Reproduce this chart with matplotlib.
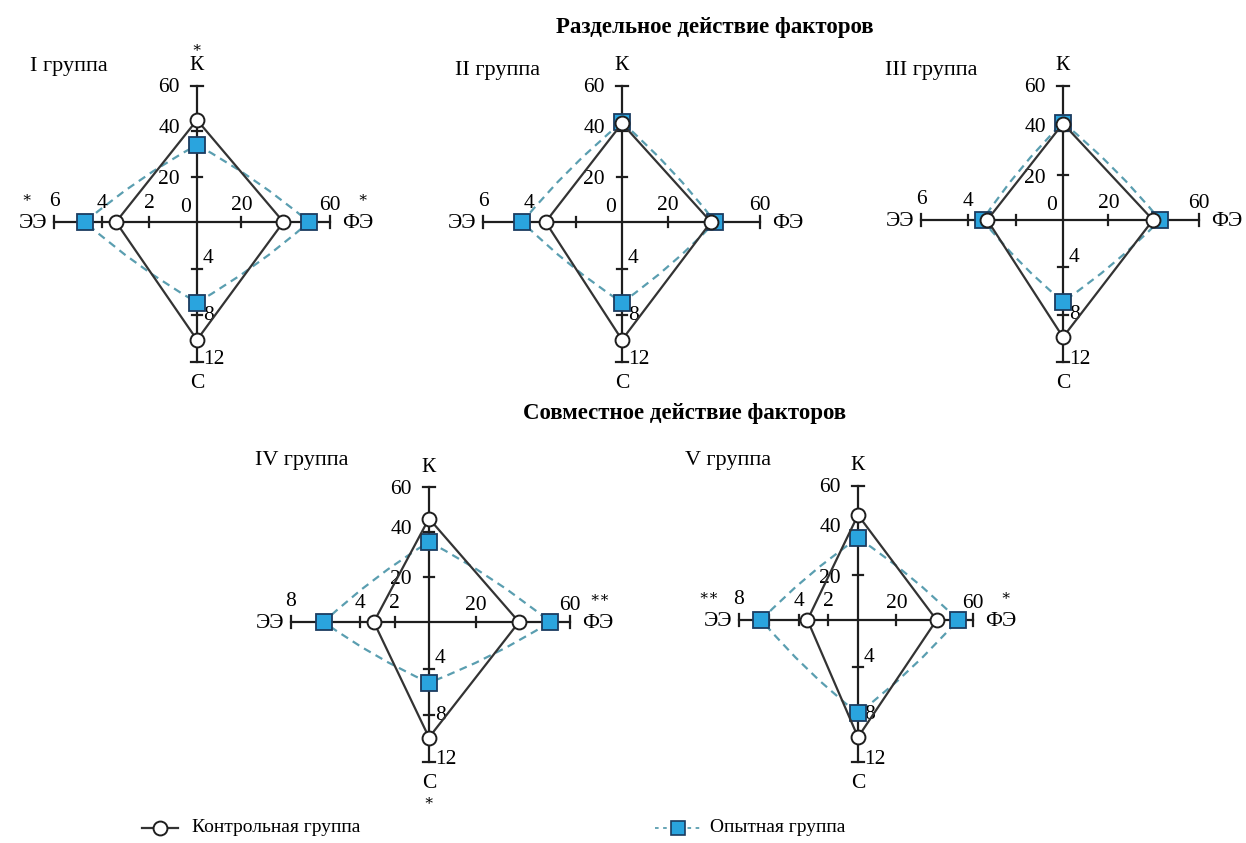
import numpy as np
import matplotlib
matplotlib.use("Agg")
import matplotlib.pyplot as plt
from matplotlib.path import Path
from matplotlib.patches import PathPatch

plt.rcParams['font.family'] = ['Liberation Serif', 'DejaVu Serif']

# ---------------- data ----------------
groups = ["I группа", "II группа", "III группа", "IV группа", "V группа"]
axis_names = ["К", "ФЭ", "С", "ЭЭ"]
# control group values per axis
k_control = [45.0, 43.5, 43.2, 46.0, 47.0]
fe_control = [39.0, 38.7, 39.7, 38.3, 41.0]
c_control = [10.1, 10.1, 9.9, 9.9, 9.9]
ee_control = [3.4, 3.3, 3.2, 3.2, 3.4]
# experimental group values per axis
k_exp = [34.0, 44.0, 43.6, 35.6, 36.7]
fe_exp = [50.5, 40.4, 42.8, 51.5, 52.0]
c_exp = [6.9, 6.9, 6.9, 5.2, 7.9]
ee_exp = [4.7, 4.3, 3.4, 6.1, 6.5]
# axis maxima and ticks
k_max, fe_max, c_max = 60, 60, 12
ee_max = [6, 6, 6, 8, 8]
k_ticks = [20, 40]
fe_ticks = [20, 40]
c_ticks = [4, 8]
ee_ticks = [[2, 4], [2, 4], [2, 4], [2, 4, 6], [2, 4, 6]]
ee_tick_labels = [["2", "4"], ["4"], ["4"], ["2", "4"], ["2", "4"]]
show_zero = [True, True, True, False, False]
# significance marks: (group index, anchor, text)
stars = [(0, "K", "*"), (0, "EE", "*"), (0, "FE", "*"),
         (3, "FE", "**"), (3, "C", "*"),
         (4, "EE", "**"), (4, "FE", "*")]
section_titles = ["Раздельное действие факторов", "Совместное действие факторов"]
legend_labels = ["Контрольная группа", "Опытная группа"]

# ---------------- layout (pixels) ----------------
geom = [
    dict(cx=197, cy=222, up=136, right=133, down=140, left=143),
    dict(cx=622, cy=222, up=136, right=138, down=140, left=139),
    dict(cx=1063, cy=220, up=134, right=136, down=142, left=142),
    dict(cx=429, cy=622, up=135, right=141, down=140, left=138),
    dict(cx=858, cy=620, up=134, right=115, down=142, left=119),
]
group_label_pos = [(30, 66), (455, 71), (885, 71), (255, 461), (685, 460)]

W, H = 1246, 843
fig = plt.figure(figsize=(W / 100, H / 100), dpi=100)
ax = fig.add_axes([0, 0, 1, 1])
ax.set_xlim(0, W)
ax.set_ylim(H, 0)
ax.axis('off')

AX_COL = "#1e1e1e"
CTRL_COL = "#333333"
DASH_COL = "#5a9eb0"
SQ_FACE = "#2aa4de"
SQ_EDGE = "#1b3c60"
FS = 15.5
LW = 1.6


def to_xy(g, name, v, vmax):
    if name == "K":
        return g['cx'], g['cy'] - v / vmax * g['up']
    if name == "FE":
        return g['cx'] + v / vmax * g['right'], g['cy']
    if name == "C":
        return g['cx'], g['cy'] + v / vmax * g['down']
    return g['cx'] - v / vmax * g['left'], g['cy']


def bowed_closed(pts, center, bow=0.05):
    n = len(pts)
    c = np.array(center, dtype=float)
    verts = [pts[0]]
    codes = [Path.MOVETO]
    for i in range(n):
        p1 = np.array(pts[i], dtype=float)
        p2 = np.array(pts[(i + 1) % n], dtype=float)
        m = (p1 + p2) / 2
        d = p2 - p1
        L = np.hypot(*d)
        nrm = np.array([-d[1], d[0]]) / L
        if np.dot(nrm, m - c) < 0:
            nrm = -nrm
        ctrl = m + nrm * bow * L
        verts += [tuple(ctrl), tuple(p2)]
        codes += [Path.CURVE3, Path.CURVE3]
    return Path(verts, codes)


for gi, g in enumerate(geom):
    cx, cy = g['cx'], g['cy']
    em = ee_max[gi]
    # axis lines
    ax.plot([cx, cx], [cy - g['up'], cy + g['down']], color=AX_COL, lw=LW, zorder=1)
    ax.plot([cx - g['left'], cx + g['right']], [cy, cy], color=AX_COL, lw=LW, zorder=1)
    # end caps
    cap = 6
    ax.plot([cx - cap, cx + cap], [cy - g['up']] * 2, color=AX_COL, lw=LW, zorder=1)
    ax.plot([cx - cap, cx + cap], [cy + g['down']] * 2, color=AX_COL, lw=LW, zorder=1)
    ax.plot([cx + g['right']] * 2, [cy - cap, cy + cap], color=AX_COL, lw=LW, zorder=1)
    ax.plot([cx - g['left']] * 2, [cy - cap, cy + cap], color=AX_COL, lw=LW, zorder=1)
    # ticks
    tk = 5
    for v in k_ticks:
        x, y = to_xy(g, "K", v, k_max)
        ax.plot([x - tk, x + tk], [y, y], color=AX_COL, lw=LW, zorder=1)
    for v in c_ticks:
        x, y = to_xy(g, "C", v, c_max)
        ax.plot([x - tk, x + tk], [y, y], color=AX_COL, lw=LW, zorder=1)
    for v in fe_ticks:
        x, y = to_xy(g, "FE", v, fe_max)
        ax.plot([x, x], [y - tk, y + tk], color=AX_COL, lw=LW, zorder=1)
    for v in ee_ticks[gi]:
        x, y = to_xy(g, "EE", v, em)
        ax.plot([x, x], [y - tk, y + tk], color=AX_COL, lw=LW, zorder=1)

    # tick labels
    for v in k_ticks + [k_max]:
        x, y = to_xy(g, "K", v, k_max)
        dy = {20: 3, 40: -3, 60: 2}[v]
        ax.text(cx - 17, y + dy, str(v), ha='right', va='center', fontsize=FS)
    for v in [20, fe_max]:
        x, y = to_xy(g, "FE", v, fe_max)
        ax.text(x, cy - 17, str(v), ha='center', va='center', fontsize=FS)
    for v in c_ticks + [c_max]:
        x, y = to_xy(g, "C", v, c_max)
        dy = {4: -10, 8: 0, 12: -3}[v]
        ax.text(cx + 6, y + dy, str(v), ha='left', va='center', fontsize=FS)
    for lab in ee_tick_labels[gi]:
        x, y = to_xy(g, "EE", float(lab), em)
        ax.text(x, cy - 18, lab, ha='center', va='center', fontsize=FS)
    x, y = to_xy(g, "EE", em, em)
    ax.text(x, cy - 20, str(em), ha='center', va='center', fontsize=FS)
    if show_zero[gi]:
        ax.text(cx - 11, cy - 14, "0", ha='center', va='center', fontsize=FS)

    # axis names
    ax.text(cx, cy - g['up'] - 20, axis_names[0], ha='center', va='center', fontsize=FS)
    ax.text(cx + g['right'] + 12, cy + 1, axis_names[1], ha='left', va='center', fontsize=FS)
    ax.text(cx, cy + g['down'] + 21, axis_names[2], ha='center', va='center', fontsize=FS)
    ax.text(cx - g['left'] - 7, cy + 1, axis_names[3], ha='right', va='center', fontsize=FS)

    # group label
    gx, gy = group_label_pos[gi]
    ax.text(gx, gy, groups[gi], ha='left', va='center', fontsize=16)

    # experimental group (slightly bowed dashed line)
    pts_e = [to_xy(g, "K", k_exp[gi], k_max), to_xy(g, "FE", fe_exp[gi], fe_max),
             to_xy(g, "C", c_exp[gi], c_max), to_xy(g, "EE", ee_exp[gi], em)]
    patch = PathPatch(bowed_closed(pts_e, (cx, cy), 0.05), facecolor='none', edgecolor=DASH_COL,
                      lw=1.6, linestyle=(0, (3.5, 2.5)), zorder=2)
    ax.add_patch(patch)
    ax.plot([p[0] for p in pts_e], [p[1] for p in pts_e], ls='none', marker='s', ms=11,
            mfc=SQ_FACE, mec=SQ_EDGE, mew=1.3, zorder=3)

    # control group (straight solid)
    pts_c = [to_xy(g, "K", k_control[gi], k_max), to_xy(g, "FE", fe_control[gi], fe_max),
             to_xy(g, "C", c_control[gi], c_max), to_xy(g, "EE", ee_control[gi], em)]
    xs = [p[0] for p in pts_c] + [pts_c[0][0]]
    ys = [p[1] for p in pts_c] + [pts_c[0][1]]
    ax.plot(xs, ys, color=CTRL_COL, lw=LW, zorder=4)
    ax.plot(xs[:-1], ys[:-1], ls='none', marker='o', ms=10, mfc='white', mec='#1e1e1e',
            mew=1.4, zorder=5)

# significance stars
for gi, anchor, s in stars:
    g = geom[gi]
    cx, cy = g['cx'], g['cy']
    if anchor == "K":
        x, y = cx, cy - g['up'] - 38
    elif anchor == "FE":
        x, y = cx + g['right'] + (33 if len(s) == 1 else 30), cy - 24
    elif anchor == "C":
        x, y = cx, cy + g['down'] + 39
    else:
        x, y = cx - g['left'] - (27 if len(s) == 1 else 30), cy - 24
    ax.text(x, y, s.replace("*", "∗"), ha='center', va='center', fontsize=11)

# section titles
ax.text(715, 28, section_titles[0], ha='center', va='center', fontsize=16.5, fontweight='bold')
ax.text(685, 414, section_titles[1], ha='center', va='center', fontsize=16.5, fontweight='bold')

# legend
ax.plot([142, 178], [828, 828], color=CTRL_COL, lw=LW)
ax.plot([160], [828], ls='none', marker='o', ms=10, mfc='white', mec='#1e1e1e', mew=1.4)
ax.text(192, 828, legend_labels[0], ha='left', va='center', fontsize=14)
ax.plot([655, 702], [828, 828], color=DASH_COL, lw=1.3, ls=(0, (2, 2.5)))
ax.plot([678], [828], ls='none', marker='s', ms=9.5, mfc=SQ_FACE, mec=SQ_EDGE, mew=1.2)
ax.text(710, 828, legend_labels[1], ha='left', va='center', fontsize=14)

fig.savefig("out.png", dpi=100)
